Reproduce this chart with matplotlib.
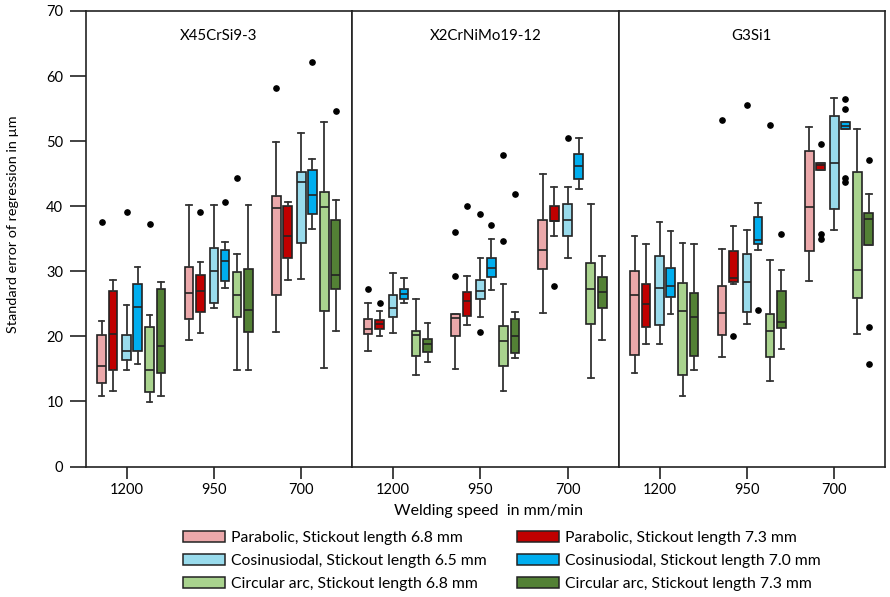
import numpy as np
import matplotlib
matplotlib.use('Agg')
import matplotlib.pyplot as plt
from matplotlib.patches import Patch

plt.rcParams['font.family'] = ['Lato', 'DejaVu Sans']

materials = ['X45CrSi9-3', 'X2CrNiMo19-12', 'G3Si1']
speeds = ['1200', '950', '700']
series = ['Parabolic, Stickout length 6.8 mm',
          'Parabolic, Stickout length 7.3 mm',
          'Cosinusiodal, Stickout length 6.5 mm',
          'Cosinusiodal, Stickout length 7.0 mm',
          'Circular arc, Stickout length 6.8 mm',
          'Circular arc, Stickout length 7.3 mm']
colors = ['#EBA8AA', '#C00000', '#99DBEC', '#00AEEF', '#A9D38E', '#538135']
ylabel = 'Standard error of regression in µm'
xlabel = 'Welding speed  in mm/min'

# rows: series, cols: speed 1200 / 950 / 700
# each: whisker low, q1, median, q3, whisker high
x45_stats = [
    [(10.9, 12.9, 15.5, 20.2, 22.3), (19.5, 22.6, 26.7, 30.7, 40.2), (20.6, 26.4, 39.8, 41.5, 49.8)],
    [(11.6, 14.9, 20.4, 27.0, 28.7), (20.5, 23.8, 27.0, 29.4, 31.5), (28.6, 32.1, 35.4, 40.1, 40.7)],
    [(14.8, 16.4, 17.7, 20.2, 24.8), (24.4, 25.2, 30.1, 33.6, 40.2), (28.8, 34.4, 43.7, 45.2, 51.3)],
    [(15.7, 17.8, 24.5, 28.1, 30.6), (27.5, 28.5, 31.6, 33.3, 34.5), (36.5, 38.8, 41.8, 45.6, 47.3)],
    [(9.9, 11.5, 14.9, 21.5, 23.3), (14.9, 22.9, 26.3, 29.9, 32.7), (15.1, 23.9, 39.9, 42.2, 52.9)],
    [(10.8, 14.4, 18.5, 27.3, 28.4), (14.9, 20.7, 24.1, 30.3, 40.2), (20.8, 27.3, 29.4, 37.9, 41.0)],
]
x45_fliers = [
    [[37.5], [], [58.1]],
    [[], [39.1], []],
    [[39.1], [], []],
    [[], [40.7], [62.2]],
    [[37.3], [44.4], []],
    [[], [], [54.7]],
]

x2_stats = [
    [(17.8, 20.4, 21.1, 22.7, 25.2), (15.0, 20.0, 22.8, 23.5, 23.5), (23.6, 30.3, 33.2, 37.9, 45.0)],
    [(20.1, 21.1, 21.9, 22.5, 23.9), (21.7, 23.2, 25.4, 26.8, 29.3), (35.4, 37.7, 37.8, 40.1, 42.9)],
    [(20.5, 23.0, 24.4, 26.3, 29.8), (22.9, 25.7, 26.9, 28.6, 32.1), (32.1, 35.4, 37.9, 40.4, 43.0)],
    [(25.2, 25.7, 26.5, 27.3, 29.0), (27.1, 29.1, 30.5, 32.1, 34.9), (42.7, 44.2, 46.2, 48.1, 50.5)],
    [(14.1, 17.0, 20.2, 20.8, 25.7), (11.6, 15.5, 19.3, 21.6, 28.0), (13.6, 21.9, 27.3, 31.2, 40.3)],
    [(16.0, 17.6, 18.8, 19.6, 22.0), (16.6, 17.5, 20.1, 22.6, 23.8), (19.4, 24.3, 26.8, 29.1, 32.3)],
]
x2_fliers = [
    [[27.3], [29.3, 36.1], []],
    [[25.2], [40.1], [27.8]],
    [[], [38.8, 20.7], [50.5]],
    [[], [37.1], []],
    [[], [47.9, 34.7], []],
    [[], [41.9], []],
]

g3_stats = [
    [(14.4, 17.1, 26.4, 30.1, 35.4), (16.9, 20.2, 23.6, 27.7, 33.5), (28.5, 33.1, 39.9, 48.5, 52.1)],
    [(18.9, 21.5, 24.9, 28.0, 34.2), (28.0, 28.4, 29.0, 33.1, 37.0), (45.6, 45.6, 46.4, 46.7, 46.7)],
    [(18.9, 21.7, 27.5, 32.4, 37.5), (21.9, 23.7, 28.4, 32.6, 36.3), (36.3, 39.6, 46.6, 53.9, 56.6)],
    [(23.4, 26.1, 27.7, 30.5, 36.2), (33.3, 34.2, 34.8, 38.4, 40.5), (51.8, 51.8, 52.3, 52.9, 52.9)],
    [(10.9, 14.1, 23.9, 28.2, 34.4), (13.1, 16.9, 20.8, 23.5, 31.7), (20.3, 25.9, 30.2, 45.3, 51.8)],
    [(14.9, 17.0, 23.0, 26.7, 34.2), (18.0, 21.3, 22.2, 27.0, 30.2), (34.1, 34.1, 38.0, 38.9, 41.9)],
]
g3_fliers = [
    [[], [53.3], []],
    [[], [20.0], [49.5, 35.8, 34.9]],
    [[], [55.5], []],
    [[], [24.0], [56.5, 54.9, 44.3, 43.7]],
    [[], [52.5], []],
    [[], [35.8], [47.1, 21.5, 15.7]],
]

all_stats = [x45_stats, x2_stats, g3_stats]
all_fliers = [x45_fliers, x2_fliers, g3_fliers]

# box offsets from the tick, in group units
offsets = np.array([-25, -13.5, 0, 11, 23, 34.5]) / 87.4
box_w = 0.1

W, H = 890, 597
fig = plt.figure(figsize=(W / 100, H / 100), dpi=100)
renderer = fig.canvas.get_renderer()


def fit_size(text, target_px, size0=10.0):
    # font size that makes `text` about target_px wide
    t = fig.text(0, 0, text, fontsize=size0)
    w = t.get_window_extent(renderer).width
    t.remove()
    return size0 * target_px / w


tick_fs = fit_size('1200', 34)
title_fs = fit_size('X2CrNiMo19-12', 111.7)
ylab_fs = fit_size(ylabel, 218)
xlab_fs = fit_size(xlabel, 189.3)
leg_fs = fit_size(series[0], 232)

left, bottom, width, height = 85.5 / W, 1 - 466.5 / H, 799.5 / W, 455.5 / H
axes = []
for m in range(3):
    ax = fig.add_axes([left + m * width / 3, bottom, width / 3, height])
    axes.append(ax)
    for s in range(6):
        stats = []
        for g in range(3):
            lo, q1, med, q3, hi = all_stats[m][s][g]
            stats.append(dict(whislo=lo, q1=q1, med=med, q3=q3, whishi=hi,
                              fliers=all_fliers[m][s][g]))
        ax.bxp(stats, positions=np.arange(3) + offsets[s], widths=box_w,
               patch_artist=True, manage_ticks=False,
               boxprops=dict(facecolor=colors[s], edgecolor='#222222', linewidth=1.2),
               medianprops=dict(color='#222222', linewidth=1.2),
               whiskerprops=dict(color='#333333', linewidth=1.3),
               capprops=dict(color='#333333', linewidth=1.3),
               capwidths=0.065,
               flierprops=dict(marker='o', markersize=3.8, markerfacecolor='black',
                               markeredgecolor='black'))
    ax.set_xlim(-0.47, 2.58)
    ax.set_ylim(0, 70)
    ax.set_xticks(range(3))
    ax.set_xticklabels(speeds, fontsize=tick_fs)
    ax.tick_params(axis='x', length=8.6, width=1.2, direction='out', pad=3.5,
                   colors='#222222', labelcolor='black')
    ax.text(0.5, (466.5 - 36) / 455.5, materials[m], transform=ax.transAxes,
            ha='center', va='center', fontsize=title_fs)
    for sp in ax.spines.values():
        sp.set_color('#222222')
        sp.set_linewidth(1.2)
    if m == 0:
        ax.set_yticks(range(0, 71, 10))
        ax.tick_params(axis='y', length=11.7, width=1.2, direction='out',
                       labelsize=tick_fs, pad=4.3, colors='#222222',
                       labelcolor='black')
        ax.set_ylabel(ylabel, fontsize=ylab_fs, va='center')
        ax.yaxis.set_label_coords((13.5 - 85.5) / 266.5, (466.5 - 224) / 455.5)
    else:
        ax.set_yticks([])

fig.text(488.7 / W, 1 - 511 / H, xlabel, ha='center', va='center',
         fontsize=xlab_fs)

# legend: two columns, rows 23 px apart, first row centred at y = 538
handles = [Patch(facecolor=c, edgecolor='#222222', linewidth=1.1) for c in colors]
order = [0, 2, 4, 1, 3, 5]
px = leg_fs * 100 / 72


def add_legend(spacing, top):
    return fig.legend([handles[i] for i in order], [series[i] for i in order],
                      ncol=2, loc='upper left', bbox_to_anchor=(183 / W, top),
                      frameon=False, fontsize=leg_fs, borderaxespad=0,
                      borderpad=0, handlelength=42 / px, handleheight=11 / px,
                      handletextpad=6 / px, columnspacing=30 / px,
                      labelspacing=spacing)


spacing, top = 0.4, 1 - 528 / H
leg = add_legend(spacing, top)
fig.canvas.draw()
ys = [t.get_window_extent(renderer) for t in leg.get_texts()]
pitch = (ys[0].y0 + ys[0].y1) / 2 - (ys[1].y0 + ys[1].y1) / 2
leg.remove()
spacing += (23 - pitch) / px
leg = add_legend(spacing, top)
fig.canvas.draw()
b = leg.get_texts()[0].get_window_extent(renderer)
shift = (H - 538.3) - (b.y0 + b.y1) / 2
leg.remove()
leg = add_legend(spacing, top + shift / H)

fig.savefig('out.png', dpi=100)
